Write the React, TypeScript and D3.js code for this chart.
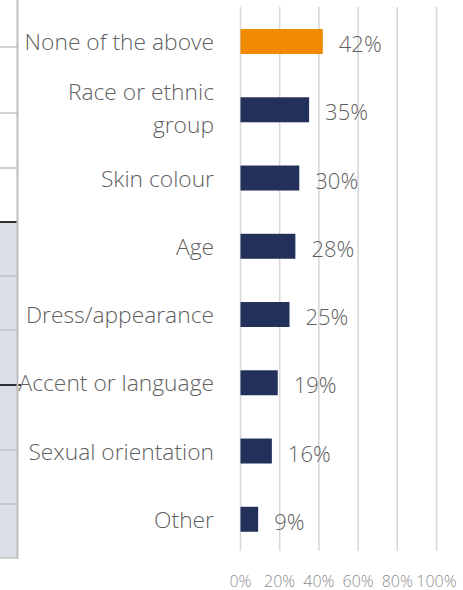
import React from "react";
import * as d3 from "d3";

const categories = [
  "None of the above",
  "Race or ethnic group",
  "Skin colour",
  "Age",
  "Dress/appearance",
  "Accent or language",
  "Sexual orientation",
  "Other",
];
const categoryLines = [
  ["None of the above"],
  ["Race or ethnic", "group"],
  ["Skin colour"],
  ["Age"],
  ["Dress/appearance"],
  ["Accent or language"],
  ["Sexual orientation"],
  ["Other"],
];
const values = [0.42, 0.35, 0.3, 0.28, 0.25, 0.19, 0.16, 0.09];
const highlight = [true, false, false, false, false, false, false, false];
const ticks = [0, 0.2, 0.4, 0.6, 0.8, 1.0];

// left-edge table fragment (cropped spreadsheet cells)
const rowBorders = [47, 113, 168, 222, 276, 330, 385, 450, 504, 558];
const darkBorders = [222, 385];

const W = 463;
const H = 590;
const FONT = "'Open Sans', 'Segoe UI', sans-serif";

export default function App() {
  const x = d3.scaleLinear().domain([0, 1]).range([240.5, 436.5]);
  const y = d3
    .scaleBand<string>()
    .domain(categories)
    .range([7.4, 553.4])
    .paddingInner(0.634)
    .paddingOuter(0.317);
  const fmt = d3.format(".0%");

  return (
    <svg
      width={W}
      height={H}
      style={{ position: "absolute", left: 0, top: 0, background: "#fff" }}
    >
      {/* left cropped table */}
      <rect x={0} y={222} width={17} height={336} fill="#dcdfe7" />
      {rowBorders.map((b, i) => (
        <line
          key={"rb" + i}
          x1={0}
          x2={b === 385 ? 21 : 18}
          y1={b}
          y2={b}
          stroke={darkBorders.includes(b) ? "#000" : "#bdbdbd"}
          strokeWidth={darkBorders.includes(b) ? 1.6 : 1.4}
        />
      ))}
      <line x1={17.5} x2={17.5} y1={0} y2={559} stroke="#bdbdbd" strokeWidth={2} />

      {/* gridlines */}
      {ticks.map((t, i) => (
        <line
          key={"g" + i}
          x1={x(t)}
          x2={x(t)}
          y1={7}
          y2={551}
          stroke="#d9d9d9"
          strokeWidth={1.6}
        />
      ))}

      {/* bars */}
      {categories.map((c, i) => (
        <rect
          key={"b" + i}
          x={x(0)}
          y={y(c)}
          width={x(values[i]) - x(0)}
          height={y.bandwidth()}
          fill={highlight[i] ? "#f08a00" : "#22305a"}
        />
      ))}

      {/* value labels */}
      {categories.map((c, i) => (
        <text
          key={"v" + i}
          x={x(values[i]) + 16}
          y={(y(c) as number) + y.bandwidth() / 2 + 1.5}
          dominantBaseline="central"
          fontFamily={FONT}
          fontWeight={300}
          fontSize={22}
          fill="#5f5f5f"
        >
          {fmt(values[i])}
        </text>
      ))}

      {/* category labels */}
      {categories.map((c, i) => {
        const lines = categoryLines[i];
        const cy =
          (y(c) as number) + y.bandwidth() / 2 - (lines.length > 1 ? 2 : 0);
        const lh = 33;
        return (
          <text
            key={"c" + i}
            textAnchor="end"
            fontFamily={FONT}
            fontWeight={300}
            fontSize={22.8}
            fill="#5f5f5f"
          >
            {lines.map((l, j) => (
              <tspan
                key={j}
                x={214}
                y={cy + (j - (lines.length - 1) / 2) * lh}
                dominantBaseline="central"
              >
                {l}
              </tspan>
            ))}
          </text>
        );
      })}

      {/* x tick labels */}
      {ticks.map((t, i) => (
        <text
          key={"t" + i}
          x={x(t)}
          y={580.5}
          textAnchor="middle"
          dominantBaseline="central"
          fontFamily={FONT}
          fontWeight={300}
          fontSize={16}
          fill="#8c8c8c"
        >
          {fmt(t)}
        </text>
      ))}
    </svg>
  );
}
